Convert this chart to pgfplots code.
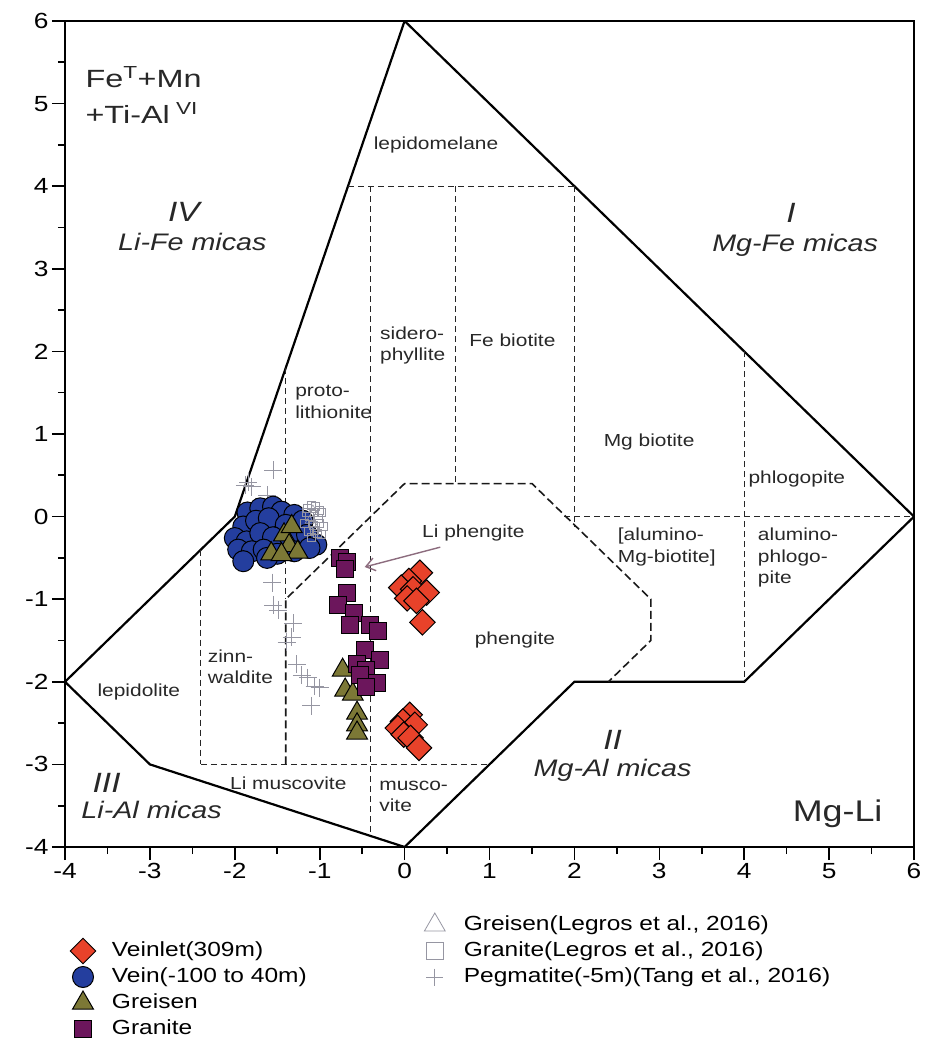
\documentclass[border=0pt]{standalone}
\usepackage{fontspec}
\setmainfont{Liberation Sans}
\newfontfamily\widefont[FakeStretch=1.2]{Liberation Sans}
\newfontfamily\widerfont[FakeStretch=1.3]{Liberation Sans}
\usepackage{pgfplots}
\pgfplotsset{compat=1.18}
\usetikzlibrary{arrows.meta}

\definecolor{veinlet}{RGB}{232,66,42}
\definecolor{vein}{RGB}{36,62,158}
\definecolor{greisen}{RGB}{124,120,54}
\definecolor{granite}{RGB}{108,22,92}
\definecolor{refgray}{RGB}{150,150,162}
\definecolor{arrowc}{RGB}{140,108,126}
\definecolor{labelc}{RGB}{40,40,40}

\newcommand\tickfont{\widefont\fontsize{22}{24}\selectfont}
\newcommand\regfont{\widefont\fontsize{17.5}{21.5}\selectfont}
\newcommand\micafont{\widefont\itshape\fontsize{24}{28}\selectfont}
\newcommand\romfont{\widefont\itshape\fontsize{28}{30}\selectfont}
\newcommand\bigfont{\widerfont\fontsize{25}{36}\selectfont}
\newcommand\axisnamefont{\widefont\fontsize{30}{32}\selectfont}
\newcommand\legfont{\widefont\fontsize{20.5}{24}\selectfont}

\pgfplotsset{
  veinlet/.style={only marks, mark=square*, mark size=9bp,
    mark options={rotate=45, fill=veinlet, draw=black, line width=1bp}},
  vein/.style={only marks, mark=*, mark size=10.5bp,
    mark options={fill=vein, draw=black, line width=1bp}},
  greisen/.style={only marks, mark=triangle*, mark size=12bp,
    mark options={fill=greisen, draw=black, line width=1bp}},
  granite/.style={only marks, mark=square*, mark size=8.5bp,
    mark options={fill=granite, draw=black, line width=1bp}},
  lgreisen/.style={only marks, mark=triangle, mark size=5bp,
    mark options={draw=refgray, line width=0.6bp}},
  lgranite/.style={only marks, mark=square, mark size=4bp,
    mark options={draw=refgray, line width=0.6bp}},
  pegm/.style={only marks, mark=+, mark size=9bp,
    mark options={draw=refgray, line width=0.8bp}},
  lgreisenkey/.style={only marks, mark=triangle, mark size=12bp,
    mark options={draw=refgray, line width=0.8bp}},
  lgranitekey/.style={only marks, mark=square, mark size=8.5bp,
    mark options={draw=refgray, line width=0.8bp}},
  pegmkey/.style={only marks, mark=+, mark size=8.5bp,
    mark options={draw=refgray, line width=0.8bp}},
  fieldline/.style={black, line width=2.2bp, no markers, forget plot},
  thindash/.style={black!85, line width=1bp, dash pattern=on 6bp off 4bp,
    no markers, forget plot},
  bolddash/.style={black!90, line width=1.6bp, dash pattern=on 8bp off 4bp,
    no markers, forget plot},
}

\begin{document}
\begin{tikzpicture}
\path[use as bounding box] (-65bp,-196bp) rectangle (873bp,847bp);
\begin{axis}[
  at={(0,0)}, anchor=south west, scale only axis,
  width=849bp, height=826bp,
  xmin=-4, xmax=6, ymin=-4, ymax=6,
  xtick={-4,...,6}, ytick={-4,...,6},
  minor tick num=1,
  tick pos=left, tick align=outside,
  major tick length=13bp, minor tick length=7bp,
  tick style={black, line width=1.6bp},
  axis line style={line width=2bp},
  ticklabel style={font=\tickfont},
  /pgf/number format/assume math mode=true,
  legend image code/.code={%
    \path[draw=none, fill=none] (-12bp,-9bp) rectangle (12bp,9bp);
    \begin{pgfinterruptboundingbox}
      \draw[#1] plot coordinates {(0bp,0bp)};
    \end{pgfinterruptboundingbox}
  },
  legend cell align=left,
  legend style={
    at={(axis description cs:0,0)}, anchor=north west,
    xshift=6bp, yshift=-69bp,
    draw=none, fill=none, inner sep=0pt, outer sep=0pt,
    legend columns=2, font=\legfont, row sep=8bp,
    nodes={inner sep=0pt, text height=14bp, text depth=4bp},
    /tikz/every odd column/.append style={column sep=17bp},
    /tikz/every even column/.append style={column sep=116bp},
  },
]
% legend: two columns, right column one row higher
\addlegendimage{empty legend}\addlegendentry{}
\addlegendimage{lgreisenkey}\addlegendentry{Greisen(Legros et al., 2016)}
\addlegendimage{veinlet}\addlegendentry{Veinlet(309m)}
\addlegendimage{lgranitekey}\addlegendentry{Granite(Legros et al., 2016)}
\addlegendimage{vein}\addlegendentry{Vein(-100 to 40m)}
\addlegendimage{pegmkey}\addlegendentry{Pegmatite(-5m)(Tang et al., 2016)}
\addlegendimage{greisen}\addlegendentry{Greisen}
\addlegendimage{empty legend}\addlegendentry{}
\addlegendimage{granite}\addlegendentry{Granite}
\addlegendimage{empty legend}\addlegendentry{}

% field boundaries
\addplot[fieldline] coordinates {(-4,-2) (-2,0) (0,6) (6,0) (4,-2) (2,-2) (0,-4) (-3,-3) (-4,-2)};
% sub-field divisions
\addplot[thindash] coordinates {(-0.667,4) (2,4)};
\addplot[thindash] coordinates {(-0.4,4) (-0.4,-3.867)};
\addplot[thindash] coordinates {(0.6,4) (0.6,0.4)};
\addplot[thindash] coordinates {(2,4) (2,-0.12)};
\addplot[thindash] coordinates {(1.88,0) (6,0)};
\addplot[thindash] coordinates {(4,2) (4,-2)};
\addplot[thindash] coordinates {(-1.4,1.8) (-1.4,-1)};
\addplot[thindash] coordinates {(-2.4,-0.4) (-2.4,-3)};
\addplot[thindash] coordinates {(-2.4,-3) (1,-3)};
% phengite field
\addplot[bolddash] coordinates {(-1.4,-3) (-1.4,-1) (0,0.4) (1.5,0.4) (2.9,-1) (2.9,-1.5) (2.4,-2)};

% Pegmatite (-5 m), Tang et al. 2016
\addplot[pegm, forget plot] coordinates {
 (-1.84,0.42) (-1.80,0.36) (-1.88,0.38) (-1.55,0.56) (-1.62,0.26) (-1.76,0.12)
 (-1.56,-0.80) (-1.55,-1.07) (-1.49,-1.13) (-1.31,-1.29) (-1.33,-1.46)
 (-1.39,-1.52) (-1.27,-1.79) (-1.21,-1.92) (-1.14,-1.95) (-1.06,-2.05)
 (-1.00,-2.07) (-1.10,-2.29)};
% Vein (-100 to 40 m)
\addplot[vein, forget plot] coordinates {
 (-1.85,0.05) (-1.70,0.10) (-1.55,0.12) (-1.45,0.06) (-1.30,0.02) (-1.20,-0.05)
 (-1.90,-0.12) (-1.75,-0.05) (-1.60,-0.02) (-1.40,-0.10) (-2.00,-0.26)
 (-1.86,-0.30) (-1.70,-0.20) (-1.55,-0.25) (-1.35,-0.25) (-1.15,-0.22)
 (-1.04,-0.34) (-1.96,-0.40) (-1.80,-0.42) (-1.66,-0.40) (-1.50,-0.45)
 (-1.30,-0.42) (-1.12,-0.38) (-1.90,-0.54) (-1.62,-0.50)};
% Granite, Legros et al. 2016
\addplot[lgranite, forget plot] coordinates {
 (-1.15,0.10) (-1.05,0.12) (-0.98,0.05) (-1.12,0.00) (-1.02,-0.02)
 (-1.18,-0.08) (-1.08,-0.10) (-0.96,-0.12) (-1.14,-0.18) (-1.03,-0.20)
 (-1.10,-0.25) (-0.98,-0.22) (-1.06,0.05) (-1.16,0.05) (-1.00,-0.08)
 (-1.10,0.14) (-1.01,0.08) (-1.06,-0.16)};
% Greisen, Legros et al. 2016
\addplot[lgreisen, forget plot] coordinates {
 (-1.12,-0.05) (-1.04,-0.15) (-1.08,0.08)};
% Greisen
\addplot[greisen, forget plot] coordinates {
 (-1.57,-0.45) (-1.42,-0.22) (-1.36,-0.35) (-1.26,-0.43) (-1.45,-0.46)
 (-1.33,-0.12)
 (-0.73,-1.86) (-0.70,-2.10) (-0.61,-2.15) (-0.56,-2.38) (-0.56,-2.52)
 (-0.56,-2.62)};
% Granite
\addplot[granite, forget plot] coordinates {
 (-0.76,-0.50) (-0.68,-0.55) (-0.70,-0.63) (-0.68,-0.93) (-0.78,-1.07)
 (-0.60,-1.17) (-0.64,-1.31) (-0.41,-1.31) (-0.31,-1.39) (-0.47,-1.62)
 (-0.56,-1.78) (-0.29,-1.74) (-0.45,-1.86) (-0.52,-1.92) (-0.33,-2.02)
 (-0.45,-2.06)};
% Veinlet (309 m)
\addplot[veinlet, forget plot] coordinates {
 (0.18,-0.68) (0.05,-0.78) (-0.04,-0.86) (0.10,-0.88) (0.26,-0.92)
 (0.03,-0.99) (0.14,-1.02) (0.21,-1.28)
 (0.06,-2.40) (-0.02,-2.48) (0.12,-2.52) (-0.08,-2.56) (-0.01,-2.64)
 (0.07,-2.68) (0.17,-2.80)};

% Li phengite pointer
\draw[arrowc, line width=1.4bp, -{Straight Barb[length=9bp, width=13bp]}]
  (axis cs:0.42,-0.37) -- (axis cs:-0.47,-0.61);

% field names
\begin{scope}[every node/.style={text=labelc, inner sep=0pt}]
\node[font=\bigfont, anchor=west, align=left] at (axis cs:-3.76,5.1)
  {Fe\textsuperscript{T}+Mn\\+Ti-Al\textsuperscript{ VI}};
\node[font=\axisnamefont] at (axis cs:5.1,-3.6) {Mg-Li};
\node[font=\romfont] at (axis cs:-2.6,3.69) {IV};
\node[font=\micafont] at (axis cs:-2.5,3.33) {Li-Fe micas};
\node[font=\romfont] at (axis cs:4.55,3.68) {I};
\node[font=\micafont] at (axis cs:4.6,3.29) {Mg-Fe micas};
\node[font=\romfont] at (axis cs:2.45,-2.7) {II};
\node[font=\micafont] at (axis cs:2.45,-3.07) {Mg-Al micas};
\node[font=\romfont] at (axis cs:-3.51,-3.23) {III};
\node[font=\micafont] at (axis cs:-2.98,-3.55) {Li-Al micas};

\node[font=\regfont] at (axis cs:0.37,4.5) {lepidomelane};
\node[font=\regfont, anchor=west, align=left] at (axis cs:-0.29,2.07) {sidero-\\phyllite};
\node[font=\regfont] at (axis cs:1.27,2.14) {Fe biotite};
\node[font=\regfont, anchor=west, align=left] at (axis cs:-1.29,1.39) {proto-\\lithionite};
\node[font=\regfont] at (axis cs:2.88,0.9) {Mg biotite};
\node[font=\regfont] at (axis cs:4.62,0.46) {phlogopite};
\node[font=\regfont] at (axis cs:0.81,-0.2) {Li phengite};
\node[font=\regfont, anchor=west, align=left] at (axis cs:2.51,-0.37) {[alumino-\\Mg-biotite]};
\node[font=\regfont, anchor=west, align=left] at (axis cs:4.16,-0.5) {alumino-\\phlogo-\\pite};
\node[font=\regfont] at (axis cs:1.30,-1.49) {phengite};
\node[font=\regfont, anchor=west, align=left] at (axis cs:-2.32,-1.82) {zinn-\\waldite};
\node[font=\regfont] at (axis cs:-3.13,-2.12) {lepidolite};
\node[font=\regfont] at (axis cs:-1.37,-3.23) {Li muscovite};
\node[font=\regfont, anchor=west, align=left] at (axis cs:-0.3,-3.39) {musco-\\vite};
\end{scope}
\end{axis}
\end{tikzpicture}
\end{document}
